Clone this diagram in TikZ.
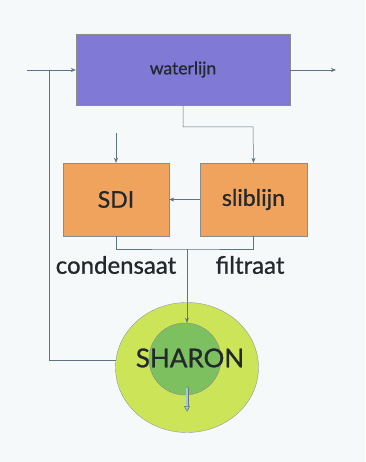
\documentclass[tikz,border=0pt]{standalone}
\usepackage{fontspec}
\setmainfont[FakeBold=0.9]{Lato}
\usetikzlibrary{arrows.meta,calc,shapes.geometric}
\definecolor{bgcol}{RGB}{245,249,249}
\definecolor{purplebox}{RGB}{128,122,214}
\definecolor{orangebox}{RGB}{240,163,92}
\definecolor{limering}{RGB}{204,228,88}
\definecolor{greencore}{RGB}{124,192,96}
\definecolor{flowline}{RGB}{95,115,135}
\definecolor{textcol}{RGB}{35,40,45}
\definecolor{outcol}{RGB}{150,210,215}
\tikzset{
  x=1pt,y=1pt,
  procbox/.style={rectangle, inner sep=0pt, draw=black!45, line width=0.4pt,
    text=textcol, font=\fontsize{23}{27}\selectfont},
  flow/.style={draw=flowline, line width=0.5pt},
  flowarr/.style={flow, -{Stealth[length=5pt,width=4pt]}},
  lbl/.style={text=textcol, font=\fontsize{24}{28}\selectfont, inner sep=0pt}
}
\begin{document}
\begin{tikzpicture}
\fill[bgcol] (0,0) rectangle (365,462);
\useasboundingbox (0,0) rectangle (365,462);

% process blocks
\node[procbox, fill=purplebox, minimum width=214, minimum height=71,
      font=\fontsize{17.5}{21}\selectfont] (water) at (183,392.5) {waterlijn};
\node[procbox, fill=orangebox, minimum width=106, minimum height=73] (sdi) at (116,262.5) {SDI};
\node[procbox, fill=orangebox, minimum width=107, minimum height=73] (slib) at (253.5,262.5) {sliblijn};

% SHARON reactor
\node[ellipse, draw=black!40, fill=limering, minimum width=143, minimum height=130, inner sep=0pt] (outer) at (187,94.5) {};
\node[circle, draw=black!45, fill=greencore, minimum size=72, inner sep=0pt] (inner) at (185,103) {};
\node[text=textcol, font=\fontsize{26}{30}\selectfont, inner sep=0pt] (sharon) at (190,104) {SHARON};

% helper points
\coordinate (in0) at (27,392);
\coordinate (out1) at (336,392);
\coordinate (fb) at (49,392);
\coordinate (drop) at (116,329);
\coordinate (join) at (187,213);
\coordinate (ret) at (116,102);

% main flow in and out
\draw[flowarr] (in0) -- (water.west |- in0);
\draw[flowarr] (water.east |- out1) -- (out1);

% feed to SDI and sliblijn
\draw[flowarr] (drop) -- (sdi.north);
\draw[flowarr] (water.south -| 183,0) |- (253,335) -- (slib.north);

% sludge line to SDI
\draw[flowarr] (slib.west) -- (sdi.east);

% condensate and filtrate collected to SHARON
\draw[flow] (sdi.south) |- (join) -| (slib.south);
\draw[flowarr] (join) -- (inner.north -| join);

% SHARON effluent back to the water line
\draw[flow] (ret) -- (49,102) -- (fb);

% labels
\node[lbl] (cond) at (116,197) {condensaat};
\node[lbl] (filt) at (250,197) {filtraat};

% effluent outlet arrow
\coordinate (e1) at (187,74);
\coordinate (e2) at (187,53);
\draw[draw=black!55, line width=3pt, line cap=round] (e1) -- (e2);
\draw[draw=outcol, line width=1.6pt, line cap=round] (e1) -- (e2);
\draw[draw=black!55, fill=outcol, line width=0.5pt] ($(e2)+(-2.5,2.5)$) -- ($(e2)+(0,-2)$) -- ($(e2)+(2.5,2.5)$) -- cycle;
\end{tikzpicture}
\end{document}
